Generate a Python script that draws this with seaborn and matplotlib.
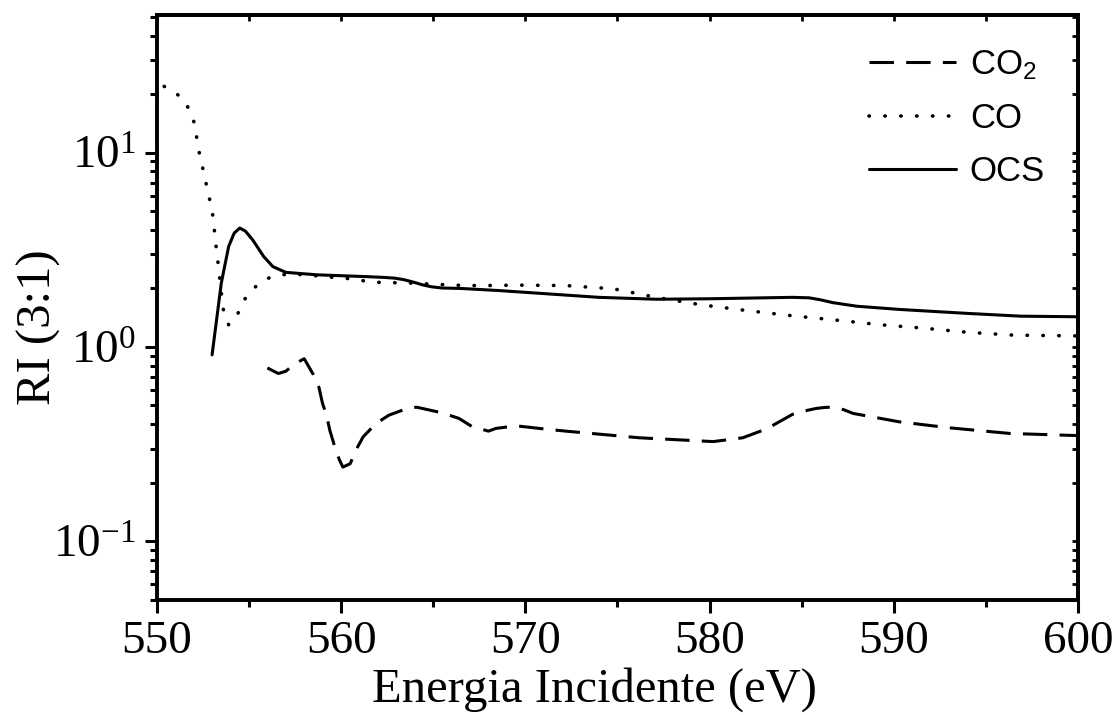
import numpy as np
import pandas as pd
import matplotlib
matplotlib.use("Agg")
import matplotlib.pyplot as plt
import seaborn as sns
from matplotlib.ticker import MultipleLocator, LogLocator, NullFormatter

# values (energy in eV, ratio RI 3:1)
co2_x = [556.0, 556.6, 557.0, 557.5, 558.0, 558.5, 558.8, 559.0, 559.2, 559.4, 559.6, 559.9,
         560.1, 560.5, 560.8, 561.2, 561.9, 562.6, 563.6, 564.1, 565.5, 566.4, 567.1, 568.0,
         568.4, 569.5, 571.1, 572.2, 576.2, 580.2, 581.8, 583.1, 584.5, 585.3, 585.8, 586.3,
         586.8, 587.3, 587.8, 590.3, 593.0, 596.3, 600.0]
co2_y = [0.78, 0.73, 0.75, 0.82, 0.87, 0.72, 0.62, 0.51, 0.45, 0.37, 0.32, 0.264,
         0.241, 0.251, 0.294, 0.345, 0.404, 0.446, 0.483, 0.49, 0.458, 0.429, 0.39, 0.369,
         0.381, 0.393, 0.378, 0.369, 0.341, 0.326, 0.341, 0.379, 0.45, 0.472, 0.483, 0.489,
         0.49, 0.475, 0.455, 0.412, 0.384, 0.359, 0.35]

co_x = [550.4, 551.3, 551.8, 552.1, 552.2, 552.4, 552.6, 552.8, 553.0, 553.1, 553.2, 553.3,
        553.4, 553.6, 553.9, 554.3, 554.7, 555.4, 556.2, 557.2, 558.5, 559.8, 560.6, 561.6,
        562.5, 563.4, 565.2, 566.1, 567.0, 567.9, 569.5, 572.2, 574.8, 577.1, 579.5, 582.0,
        584.4, 586.7, 589.3, 591.6, 594.0, 596.5, 600.0]
co_y = [21.9, 19.4, 16.5, 13.6, 11.1, 9.1, 7.5, 6.1, 5.1, 4.2, 3.4, 2.84,
        2.32, 1.57, 1.30, 1.41, 1.73, 2.06, 2.30, 2.38, 2.33, 2.27, 2.24, 2.16,
        2.14, 2.14, 2.10, 2.08, 2.07, 2.07, 2.08, 2.07, 1.99, 1.80, 1.65, 1.54,
        1.45, 1.38, 1.30, 1.25, 1.19, 1.15, 1.14]

ocs_x = [553.0, 553.5, 553.9, 554.2, 554.5, 554.8, 555.2, 555.8, 556.3, 557.0, 558.7, 561.4,
         562.3, 562.9, 563.4, 563.9, 564.4, 564.9, 565.5, 566.5, 568.6, 574.0, 577.1, 580.0,
         583.0, 584.5, 585.4, 586.0, 586.7, 588.0, 590.3, 593.9, 596.9, 600.0]
ocs_y = [0.91, 2.13, 3.29, 3.85, 4.09, 3.95, 3.56, 2.92, 2.59, 2.42, 2.35, 2.30,
         2.28, 2.26, 2.22, 2.16, 2.09, 2.04, 2.01, 2.00, 1.95, 1.80, 1.76, 1.77,
         1.79, 1.80, 1.79, 1.75, 1.69, 1.62, 1.56, 1.49, 1.44, 1.43]

sns.set_style("ticks")
plt.rcParams['font.family'] = ['Liberation Serif', 'DejaVu Serif']
plt.rcParams['mathtext.fontset'] = 'custom'
plt.rcParams['mathtext.rm'] = 'Liberation Serif'
plt.rcParams['mathtext.sf'] = 'Liberation Sans'
plt.rcParams['axes.unicode_minus'] = False
for k in ['text.color', 'axes.labelcolor', 'xtick.color', 'ytick.color', 'axes.edgecolor']:
    plt.rcParams[k] = 'black'

fig, ax = plt.subplots(figsize=(11.2, 7.15), dpi=100)
fig.subplots_adjust(left=0.140, right=0.9625, top=0.979, bottom=0.161)

lw = 2.2
sns.lineplot(x=co2_x, y=co2_y, ax=ax, color='black', lw=lw,
             linestyle=(0, (8, 4)), label=r'$\mathsf{CO_2}$')
sns.lineplot(x=co_x, y=co_y, ax=ax, color='black', lw=lw + 0.4,
             linestyle=(0, (0.1, 4.3)), dash_capstyle='round', label='CO')
sns.lineplot(x=ocs_x, y=ocs_y, ax=ax, color='black', lw=lw, label='OCS')

ax.set_yscale('log')
ax.set_xlim(550, 600)
ax.set_ylim(0.05, 51)
ax.xaxis.set_major_locator(MultipleLocator(10))
ax.xaxis.set_minor_locator(MultipleLocator(5))
ax.yaxis.set_major_locator(LogLocator(base=10))
ax.yaxis.set_minor_locator(LogLocator(base=10, subs=np.arange(2, 10)))
ax.yaxis.set_minor_formatter(NullFormatter())

for s in ax.spines.values():
    s.set_linewidth(2.8)
    s.set_color('black')

ax.tick_params(axis='both', which='major', direction='out', length=9, width=2.2,
               labelsize=34, pad=6, top=False, right=False)
ax.tick_params(axis='both', which='minor', direction='out', length=5, width=2.2,
               top=False, right=False)
# small inward ticks on top and right, like the original
sec_x = ax.secondary_xaxis('top')
sec_x.xaxis.set_major_locator(MultipleLocator(5))
sec_x.tick_params(direction='in', length=4, width=2, labeltop=False)
sec_x.spines['top'].set_linewidth(2.8)
sec_y = ax.secondary_yaxis('right')
sec_y.yaxis.set_major_locator(LogLocator(base=10, subs=np.arange(1, 10)))
sec_y.yaxis.set_minor_locator(LogLocator(base=10, subs=np.arange(1, 10)))
sec_y.tick_params(which='both', direction='in', length=4, width=2, labelright=False)
sec_y.yaxis.set_minor_formatter(NullFormatter())
sec_y.spines['right'].set_linewidth(2.8)

ax.set_xlabel('Energia Incidente (eV)', fontsize=35)
ax.set_ylabel('RI (3:1)', fontsize=35)
ax.xaxis.set_label_coords(0.4756, -0.115)
ax.yaxis.set_label_coords(-0.104, 0.466)

leg = ax.legend(loc='upper right', frameon=False, handlelength=2.5, handletextpad=0.4,
                labelspacing=0.58, borderaxespad=0.55,
                prop={'family': 'Liberation Sans', 'size': 25})

fig.savefig('out.png', dpi=100)
